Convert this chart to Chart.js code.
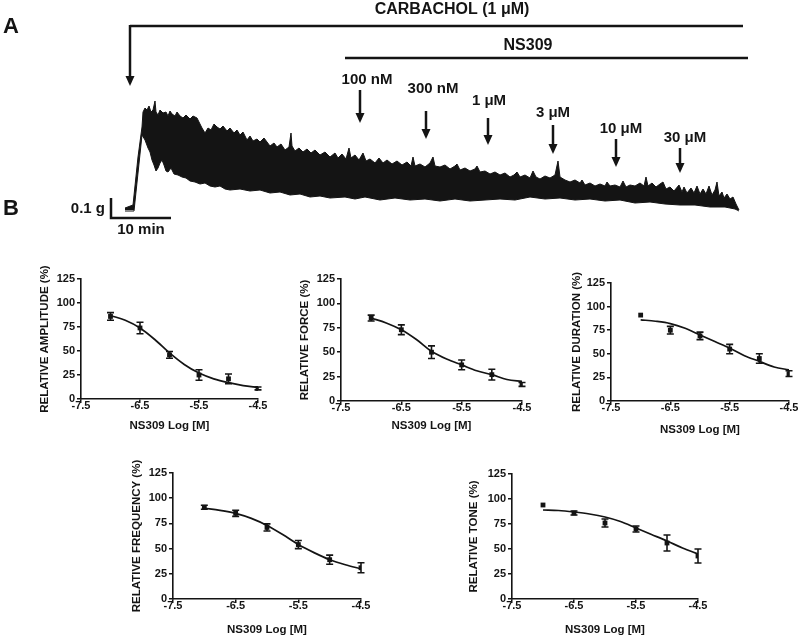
<!DOCTYPE html>
<html><head><meta charset="utf-8">
<script src="https://cdn.jsdelivr.net/npm/chart.js@4.4.0/dist/chart.umd.min.js"></script>
<style>
html,body{margin:0;padding:0;background:#fff;overflow:hidden;width:800px;height:636px;}
#wrap{position:relative;width:800px;height:636px;overflow:hidden;background:#fff;}
canvas{position:absolute;}
</style></head><body><div id="wrap">
<canvas id="trace"></canvas>
<canvas id="pAmp"></canvas>
<canvas id="pForce"></canvas>
<canvas id="pDur"></canvas>
<canvas id="pFreq"></canvas>
<canvas id="pTone"></canvas>
</div>
<script>
// ---------- Panel A: recording trace (time in s after carbachol, tension in mg above baseline) ----------
const traceTopSec = [-50,30,80,120,130,150,170,190,210,230,250,260,280,300,330,360,380,400,420,450,470,500,530,560,600,630,670,690,720,750,780,810,840,870,900,930,970,1000,1040,1070,1100,1130,1170,1200,1230,1270,1300,1340,1370,1400,1440,1470,1510,1550,1590,1610,1620,1650,1690,1730,1770,1810,1850,1900,1950,2000,2050,2080,2120,2160,2190,2210,2250,2290,2330,2360,2400,2450,2490,2530,2570,2620,2670,2720,2770,2810,2830,2850,2900,2950,3000,3030,3050,3100,3150,3200,3250,3270,3300,3350,3400,3450,3470,3500,3550,3600,3650,3700,3750,3800,3840,3870,3900,3950,4000,4030,4060,4100,4150,4200,4250,4280,4300,4350,4400,4450,4500,4520,4550,4600,4650,4700,4750,4770,4800,4850,4900,4930,4960,5000,5050,5100,5140,5160,5180,5220,5260,5300,5330,5360,5400,5440,5490,5520,5540,5570,5610,5640,5670,5700,5730,5760,5790,5820,5850,5870,5890,5920,5940,5970,6000,6030,6060,6090];
const traceTopMg = [10,25,265,415,490,510,500,520,490,500,545,490,475,500,485,490,470,495,480,470,490,470,460,475,455,470,460,440,410,385,410,400,430,415,405,420,395,410,385,400,375,390,350,370,345,355,340,360,340,320,335,315,330,300,315,385,320,295,310,290,305,285,300,275,290,265,285,260,280,255,310,260,275,250,285,245,255,235,260,235,250,230,245,225,240,220,265,220,230,215,235,265,220,215,225,205,220,230,200,210,195,205,220,190,195,180,190,175,185,165,175,190,165,175,160,195,165,155,170,160,175,245,165,150,140,150,135,150,125,135,120,130,120,140,120,125,115,145,115,125,120,135,120,165,120,135,115,130,140,105,115,95,125,90,115,85,110,85,120,80,105,80,120,75,100,140,70,90,60,80,55,65,30,0];
const traceBottomSec = [-50,40,120,150,180,200,220,240,260,280,300,320,340,360,380,410,440,480,520,560,600,650,700,750,800,850,900,950,1000,1100,1200,1300,1400,1500,1600,1700,1800,1900,2000,2150,2250,2350,2500,2650,2800,2950,3100,3250,3400,3550,3700,3850,4000,4150,4300,4450,4600,4750,4900,5050,5200,5350,5500,5650,5800,5950,6050,6090];
const traceBottomMg = [-5,-5,375,350,310,290,250,225,195,210,235,250,225,195,190,210,180,175,165,160,145,140,130,135,120,115,120,105,100,105,95,100,85,90,75,80,65,70,60,65,55,65,50,60,50,55,45,55,45,50,55,50,65,55,60,50,55,45,50,35,40,30,25,25,15,15,5,-5];

const carbacholAddSec = 0;
const carbacholEndSec = 6130;
const ns309StartSec = 2150;
const ns309EndSec = 6180;
const drugLabels = ['100 nM','300 nM','1 \u03bcM','3 \u03bcM','10 \u03bcM','30 \u03bcM'];
const drugAddSec = [2300, 2960, 3580, 4230, 4860, 5500];
const scaleBarSec = 600;     // 10 min
const scaleBarMg = 100;      // 0.1 g

// ---------- Panel B: concentration-response ----------
const doseLog = [-7, -6.5, -6, -5.5, -5, -4.5];
const xTickValues = [-7.5, -6.5, -5.5, -4.5];
const yTickValues = [0, 25, 50, 75, 100, 125];
const fitLog = [-7, -6.75, -6.5, -6.25, -6, -5.75, -5.5, -5.25, -5, -4.75, -4.5];

const amplitudeMean = [86, 74, 46, 25, 21, 11];
const amplitudeSem  = [4, 6, 3.5, 5.5, 5, 1.5];
const amplitudeFit  = [87, 82, 74, 62, 48, 36, 27, 21, 17, 14, 12];

const forceMean = [85, 73, 50, 37, 27, 17];
const forceSem  = [3, 5, 6.5, 5, 5.5, 2];
const forceFit  = [85, 80, 73, 63, 51, 43, 37, 31, 27, 22, 20];

const durationMean = [91, 75, 69, 55, 45, 29];
const durationSem  = [0, 4, 4, 5, 5, 3];
const durationFit  = [86, 84.5, 82, 77, 70, 63, 56, 48, 42, 36, 33];

const frequencyMean = [91, 85, 71, 54, 39, 31];
const frequencySem  = [2, 3, 3.5, 4, 4.5, 5];
const frequencyFit  = [90, 88, 85, 80, 73, 64, 54, 46, 39, 34, 30];

const toneMean = [94, 86, 76, 70, 56, 43];
const toneSem  = [0, 2, 4, 3, 8, 7];
const toneFit  = [89, 88.5, 87, 85, 82, 77.5, 71, 64.5, 58, 51, 45];

// ---------- drawing ----------
const INK = '#141414';
const FAM = '"Liberation Sans", Arial, Helvetica, sans-serif';

function arrowDown(ctx, x, top, tip) {
  ctx.beginPath(); ctx.moveTo(x, top); ctx.lineTo(x, tip - 8); ctx.stroke();
  ctx.beginPath(); ctx.moveTo(x - 4.5, tip - 10); ctx.lineTo(x + 4.5, tip - 10); ctx.lineTo(x, tip); ctx.closePath(); ctx.fill();
}

const traceNotes = {
  id: 'traceNotes',
  afterDraw(chart) {
    const {ctx} = chart; const xs = chart.scales.x, ys = chart.scales.y;
    ctx.save();
    ctx.fillStyle = INK; ctx.strokeStyle = INK; ctx.lineCap = 'butt';
    ctx.textBaseline = 'alphabetic'; ctx.textAlign = 'left';
    ctx.font = 'bold 22px ' + FAM;
    ctx.fillText('A', 3, 33);
    ctx.fillText('B', 3, 215);

    // carbachol bracket
    const cx = xs.getPixelForValue(carbacholAddSec), ce = xs.getPixelForValue(carbacholEndSec);
    ctx.lineWidth = 2.5;
    ctx.beginPath(); ctx.moveTo(ce, 26); ctx.lineTo(cx, 26); ctx.stroke();
    arrowDown(ctx, cx, 25, 86);
    ctx.textAlign = 'center'; ctx.textBaseline = 'middle';
    ctx.font = 'bold 16px ' + FAM;
    ctx.fillText('CARBACHOL (1 \u03bcM)', 452, 10);

    // NS309 bar
    const n0 = xs.getPixelForValue(ns309StartSec), n1 = xs.getPixelForValue(ns309EndSec);
    ctx.beginPath(); ctx.moveTo(n0, 58); ctx.lineTo(n1, 58); ctx.stroke();
    ctx.fillText('NS309', 528, 46);

    // concentration arrows
    const labelY = [80, 89, 101, 113, 129, 138];
    const arrowTop = [90, 111, 118, 125, 139, 148];
    const arrowTip = [123, 139, 145, 154, 167, 173];
    const labelDx = [7, 7, 1, 0, 5, 5];
    ctx.font = 'bold 15px ' + FAM;
    drugAddSec.forEach((t, i) => {
      const px = xs.getPixelForValue(t);
      arrowDown(ctx, px, arrowTop[i], arrowTip[i]);
      ctx.fillText(drugLabels[i], px + labelDx[i], labelY[i]);
    });

    // scale bars (0.1 g, 10 min)
    const sbT = -190, sbBase = -40;
    const sbX0 = xs.getPixelForValue(sbT), sbX1 = xs.getPixelForValue(sbT + scaleBarSec);
    const sbY0 = ys.getPixelForValue(sbBase), sbY1 = ys.getPixelForValue(sbBase + scaleBarMg);
    ctx.lineWidth = 2.5;
    ctx.beginPath(); ctx.moveTo(sbX0, sbY1); ctx.lineTo(sbX0, sbY0); ctx.lineTo(sbX1, sbY0); ctx.stroke();
    ctx.font = 'bold 15px ' + FAM;
    ctx.textAlign = 'right'; ctx.textBaseline = 'middle';
    ctx.fillText('0.1 g', sbX0 - 6, (sbY0 + sbY1) / 2 + 1);
    ctx.textAlign = 'center'; ctx.textBaseline = 'top';
    ctx.fillText('10 min', (sbX0 + sbX1) / 2, sbY0 + 4);
    ctx.restore();
  }
};

(function () {
  const cv = document.getElementById('trace');
  cv.width = 800; cv.height = 240; cv.style.left = '0px'; cv.style.top = '0px';
  const pxPerSec = 0.1, pxPerMg = 0.2, x0 = 130, yBase = 210;
  new Chart(cv, {
    type: 'line',
    data: { datasets: [
      { data: traceBottomSec.map((t, i) => ({x: t, y: traceBottomMg[i]})), borderColor: INK, borderWidth: 1,
        backgroundColor: '#ffffff', fill: 'origin', pointRadius: 0, tension: 0 },
      { data: traceTopSec.map((t, i) => ({x: t, y: traceTopMg[i]})), borderColor: INK, borderWidth: 1,
        backgroundColor: INK, fill: 'origin', pointRadius: 0, tension: 0 }
    ]},
    options: {
      responsive: false, animation: false, events: [],
      layout: { padding: 0 },
      plugins: { legend: {display: false}, tooltip: {enabled: false} },
      scales: {
        x: { type: 'linear', display: false, min: -x0 / pxPerSec, max: (800 - x0) / pxPerSec },
        y: { type: 'linear', display: false, min: -(240 - yBase) / pxPerMg, max: yBase / pxPerMg }
      }
    },
    plugins: [traceNotes]
  });
})();

const errBars = {
  id: 'errBars',
  afterDatasetsDraw(chart) {
    const ds = chart.data.datasets[1]; const meta = chart.getDatasetMeta(1);
    const ys = chart.scales.y; const ctx = chart.ctx;
    ctx.save(); ctx.strokeStyle = INK; ctx.lineWidth = 1.6;
    meta.data.forEach((pt, i) => {
      const s = ds.sem[i]; if (!s) return;
      const m = ds.data[i].y;
      const a = ys.getPixelForValue(m + s), b = ys.getPixelForValue(m - s);
      ctx.beginPath();
      ctx.moveTo(pt.x, a); ctx.lineTo(pt.x, b);
      ctx.moveTo(pt.x - 3.5, a); ctx.lineTo(pt.x + 3.5, a);
      ctx.moveTo(pt.x - 3.5, b); ctx.lineTo(pt.x + 3.5, b);
      ctx.stroke();
    });
    ctx.restore();
  }
};

function makePanel(id, lay, yTitle, mean, sem, fit) {
  const cv = document.getElementById(id);
  const pad = {left: 2, top: 32, right: 16, bottom: 4};
  const w = pad.left + lay.W + (lay.R - lay.L) + pad.right;
  const h = pad.top + (lay.B - lay.T) + lay.H + pad.bottom;
  cv.width = w; cv.height = h;
  cv.style.left = (lay.L - lay.W - pad.left) + 'px';
  cv.style.top = (lay.T - pad.top) + 'px';
  const tickFont = {family: FAM, size: 11, weight: 'bold'};
  const titleFont = {family: FAM, size: 11.5, weight: 'bold'};
  new Chart(cv, {
    type: 'line',
    data: { datasets: [
      { data: fitLog.map((x, i) => ({x, y: fit[i]})), borderColor: INK, borderWidth: 1.7, pointRadius: 0,
        cubicInterpolationMode: 'monotone', fill: false },
      { data: doseLog.map((x, i) => ({x, y: mean[i]})), sem: sem, showLine: false, pointStyle: 'rect',
        pointRadius: 3.4, backgroundColor: INK, borderColor: INK, borderWidth: 0 }
    ]},
    options: {
      responsive: false, animation: false, events: [],
      layout: { padding: pad },
      plugins: { legend: {display: false}, tooltip: {enabled: false} },
      scales: {
        x: { type: 'linear', min: -7.5, max: -4.5,
          afterBuildTicks: s => { s.ticks = xTickValues.map(v => ({value: v})); },
          afterFit: s => { s.height = lay.H; },
          grid: { drawOnChartArea: false, drawTicks: true, tickLength: 4, color: INK, lineWidth: 1.5 },
          border: { display: true, color: INK, width: 1.6 },
          ticks: { font: tickFont, color: INK, padding: -4, maxRotation: 0, autoSkip: false, callback: v => v.toFixed(1) },
          title: { display: true, text: 'NS309 Log [M]', font: titleFont, color: INK, padding: 0 } },
        y: { type: 'linear', min: 0, max: 125,
          afterBuildTicks: s => { s.ticks = yTickValues.map(v => ({value: v})); },
          afterFit: s => { s.width = lay.W; },
          grid: { drawOnChartArea: false, drawTicks: true, tickLength: 4, color: INK, lineWidth: 1.5 },
          border: { display: true, color: INK, width: 1.6 },
          ticks: { font: tickFont, color: INK, padding: 2, autoSkip: false, callback: v => String(v) },
          title: { display: true, text: yTitle, font: titleFont, color: INK, padding: 0 } }
      }
    },
    plugins: [errBars]
  });
}

makePanel('pAmp',  {L: 81,  R: 258, T: 279, B: 399, W: 43, H: 34}, 'RELATIVE AMPLITUDE (%)', amplitudeMean, amplitudeSem, amplitudeFit);
makePanel('pForce',{L: 341, R: 522, T: 279, B: 401, W: 43, H: 32}, 'RELATIVE FORCE (%)', forceMean, forceSem, forceFit);
makePanel('pDur',  {L: 611, R: 789, T: 283, B: 401, W: 41, H: 36}, 'RELATIVE DURATION (%)', durationMean, durationSem, durationFit);
makePanel('pFreq', {L: 173, R: 361, T: 473, B: 599, W: 43, H: 38}, 'RELATIVE FREQUENCY (%)', frequencyMean, frequencySem, frequencyFit);
makePanel('pTone', {L: 512, R: 698, T: 474, B: 599, W: 45, H: 38}, 'RELATIVE TONE (%)', toneMean, toneSem, toneFit);
</script>
</body></html>
